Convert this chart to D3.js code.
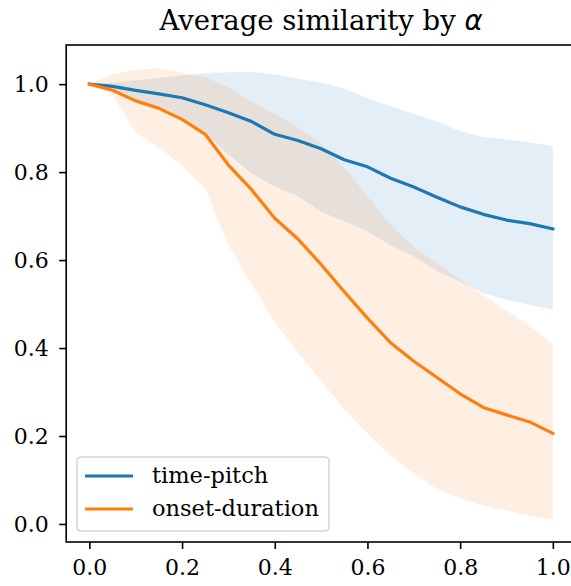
<!DOCTYPE html>
<html>
<head>
<meta charset="utf-8">
<script src="https://cdn.jsdelivr.net/npm/d3@7"></script>
<style>
  body { margin: 0; background: #fff; }
  svg { display: block; font-family: "DejaVu Serif", serif; }
</style>
</head>
<body>
<svg id="chart" width="571" height="586"></svg>
<script>
// alpha values (x axis)
const alphas = [0, 0.05, 0.1, 0.15, 0.2, 0.25, 0.3, 0.35, 0.4, 0.45, 0.5,
                0.55, 0.6, 0.65, 0.7, 0.75, 0.8, 0.85, 0.9, 0.95, 1.0];

// time-pitch: mean and band
const tpMean  = [1.0, 0.995, 0.986, 0.978, 0.969, 0.953, 0.935, 0.915, 0.886, 0.872, 0.853,
                 0.828, 0.812, 0.786, 0.766, 0.743, 0.721, 0.704, 0.691, 0.683, 0.671];
const tpUpper = [1.0, 1.004, 1.009, 1.014, 1.02, 1.024, 1.027, 1.028, 1.022, 1.012, 1.004,
                 0.99, 0.968, 0.95, 0.932, 0.915, 0.893, 0.88, 0.874, 0.868, 0.859];
const tpLower = [1.0, 0.984, 0.962, 0.942, 0.922, 0.888, 0.84, 0.797, 0.767, 0.745, 0.71,
                 0.688, 0.665, 0.633, 0.608, 0.575, 0.55, 0.525, 0.51, 0.498, 0.487];

// onset-duration: mean and band
const odMean  = [1.0, 0.986, 0.962, 0.945, 0.92, 0.886, 0.816, 0.76, 0.695, 0.648, 0.59,
                 0.528, 0.468, 0.412, 0.37, 0.333, 0.296, 0.265, 0.248, 0.232, 0.206];
const odUpper = [1.0, 1.022, 1.033, 1.036, 1.026, 1.016, 0.992, 0.96, 0.932, 0.902, 0.865,
                 0.81, 0.745, 0.68, 0.63, 0.593, 0.555, 0.52, 0.485, 0.45, 0.41];
const odLower = [1.0, 0.975, 0.89, 0.855, 0.815, 0.762, 0.635, 0.545, 0.46, 0.39, 0.325,
                 0.26, 0.205, 0.155, 0.115, 0.08, 0.058, 0.042, 0.03, 0.018, 0.009];

const xTicks = [0, 0.2, 0.4, 0.6, 0.8, 1.0];
const yTicks = [0, 0.2, 0.4, 0.6, 0.8, 1.0];

const series = [
  { name: "time-pitch",     color: "#1f77b4", mean: tpMean, lo: tpLower, hi: tpUpper },
  { name: "onset-duration", color: "#ff7f0e", mean: odMean, lo: odLower, hi: odUpper }
];

const svg = d3.select("#chart");

// plot area (right spine falls just outside the window, like the original)
const plotLeft = 66.2, plotRight = 576, plotTop = 45, plotBottom = 542;

const x = d3.scaleLinear().domain([-0.05, 1.05]).range([plotLeft, plotRight]);
const y = d3.scaleLinear().domain([-0.041, 1.089]).range([plotBottom, plotTop]);

// --- bands first, then lines on top ---
const area = d3.area()
  .x((d, i) => x(alphas[i]))
  .y0(d => y(d[0]))
  .y1(d => y(d[1]));

const line = d3.line()
  .x((d, i) => x(alphas[i]))
  .y(d => y(d));

const bands = svg.append("g").attr("class", "bands");
series.forEach(s => {
  bands.append("path")
    .datum(s.lo.map((v, i) => [v, s.hi[i]]))
    .attr("d", area)
    .attr("fill", s.color)
    .attr("fill-opacity", 0.12);
});

const lines = svg.append("g").attr("class", "lines");
series.forEach(s => {
  lines.append("path")
    .datum(s.mean)
    .attr("d", line)
    .attr("fill", "none")
    .attr("stroke", s.color)
    .attr("stroke-width", 3.2)
    .attr("stroke-linejoin", "round")
    .attr("stroke-linecap", "square");
});

// --- axes ---
const xAxis = d3.axisBottom(x).tickValues(xTicks).tickFormat(d3.format(".1f"))
  .tickSize(7).tickPadding(10.5);
const yAxis = d3.axisLeft(y).tickValues(yTicks).tickFormat(d3.format(".1f"))
  .tickSize(7).tickPadding(10.5);

const gx = svg.append("g").attr("transform", `translate(0,${plotBottom})`).call(xAxis);
const gy = svg.append("g").attr("transform", `translate(${plotLeft},0)`).call(yAxis);

[gx, gy].forEach(g => {
  g.select(".domain").remove();
  g.selectAll(".tick line").attr("stroke", "#000").attr("stroke-width", 1.6);
  g.selectAll(".tick text")
    .attr("fill", "#000")
    .style("font-family", "DejaVu Serif")
    .style("font-size", "22px");
});
gx.selectAll(".tick text").attr("dy", "0.72em");

// spines
svg.append("rect")
  .attr("x", plotLeft).attr("y", plotTop)
  .attr("width", plotRight - plotLeft).attr("height", plotBottom - plotTop)
  .attr("fill", "none")
  .attr("stroke", "#000")
  .attr("stroke-width", 1.6);

// --- title ---
const title = svg.append("text")
  .attr("x", (plotLeft + plotRight) / 2)
  .attr("y", 30)
  .attr("text-anchor", "middle")
  .style("font-size", "27.5px")
  .text("Average similarity by ");
title.append("tspan")
  .style("font-family", "DejaVu Sans")
  .style("font-style", "italic")
  .text("α");

// --- legend ---
const legend = svg.append("g").attr("transform", "translate(77,457)");
legend.append("rect")
  .attr("width", 252).attr("height", 74)
  .attr("rx", 4)
  .attr("fill", "#fff").attr("fill-opacity", 0.8)
  .attr("stroke", "#d6d6d6").attr("stroke-width", 1.6);

series.forEach((s, i) => {
  const row = legend.append("g").attr("transform", `translate(0,${19 + i * 33})`);
  row.append("line")
    .attr("x1", 8).attr("x2", 56)
    .attr("stroke", s.color).attr("stroke-width", 3.2);
  row.append("text")
    .attr("x", 75).attr("dy", "0.33em")
    .style("font-size", "22.5px")
    .text(s.name);
});
</script>
</body>
</html>
